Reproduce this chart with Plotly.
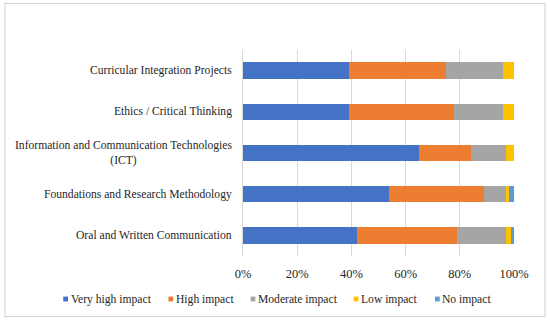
import plotly.graph_objects as go

categories = [
    "Curricular Integration Projects",
    "Ethics / Critical Thinking",
    "Information and Communication Technologies<br>(ICT)",
    "Foundations and Research Methodology",
    "Oral and Written Communication",
]
series_names = ["Very high impact", "High impact", "Moderate impact", "Low impact", "No impact"]
very_high = [39, 39, 65, 54, 42]
high = [36, 39, 19, 35, 37]
moderate = [21, 18, 13, 8, 18]
low = [4, 4, 3, 1, 2]
no_impact = [0, 0, 0, 2, 1]
tick_vals = [0, 20, 40, 60, 80, 100]
tick_text = ["0%", "20%", "40%", "60%", "80%", "100%"]

colors = ["#4472C4", "#ED7D31", "#A5A5A5", "#FFC000", "#5B9BD5"]
values = [very_high, high, moderate, low, no_impact]

W, H = 550, 322
L, R, T, B = 243, 514.5, 50, 256
FONT = "Liberation Serif, Times New Roman, serif"

fig = go.Figure()
for name, vals, c in zip(series_names, values, colors):
    fig.add_trace(go.Bar(
        y=categories, x=vals, name=name, orientation="h",
        marker=dict(color=c, line=dict(width=0)), showlegend=False,
    ))

def px_x(p):
    return (p - L) / (R - L)

def px_y(p):
    return (B - p) / (B - T)

shapes = []
annotations = []
# outer border
shapes.append(dict(type="rect", xref="paper", yref="paper",
                   x0=px_x(4.5), x1=px_x(545.5), y0=px_y(316.5), y1=px_y(3.5),
                   line=dict(color="#d0d0d0", width=1), layer="below"))

# category labels
for cat in categories:
    annotations.append(dict(x=0, xref="paper", y=cat, yref="y", text=cat,
                            showarrow=False, xanchor="right", xshift=-9,
                            align="center",
                            font=dict(family=FONT, size=11.6, color="#262626")))

# legend
marker_x = [65.3, 170.7, 253.0, 356.3, 437.7]
legend_y = 299
for name, c, mx in zip(series_names, colors, marker_x):
    shapes.append(dict(type="rect", xref="paper", yref="paper",
                       x0=px_x(mx - 2.4), x1=px_x(mx + 2.4),
                       y0=px_y(legend_y + 2.4), y1=px_y(legend_y - 2.4),
                       fillcolor=c, line=dict(width=0)))
    annotations.append(dict(x=px_x(mx + 5), xref="paper", y=px_y(legend_y), yref="paper",
                            text=name, showarrow=False, xanchor="left", yanchor="middle",
                            xshift=-2,
                            font=dict(family=FONT, size=11.6, color="#262626")))

fig.update_layout(
    barmode="stack",
    bargap=0.6,
    width=W, height=H,
    margin=dict(l=L, r=W - R, t=T, b=H - B, pad=0),
    paper_bgcolor="white", plot_bgcolor="white",
    font=dict(family=FONT, color="#262626"),
    shapes=shapes, annotations=annotations,
    xaxis=dict(range=[0, 100], tickvals=tick_vals, ticktext=tick_text,
               showgrid=True, gridcolor="#d9d9d9", gridwidth=1,
               zeroline=False, showline=False, ticks="",
               ticklabelstandoff=8,
               tickfont=dict(family=FONT, size=12.5, color="#262626"), fixedrange=True),
    yaxis=dict(autorange="reversed", showticklabels=False, showgrid=False,
               showline=True, linecolor="#d9d9d9", linewidth=1, ticks="",
               zeroline=False, fixedrange=True),
)

fig.write_html("out.html", config={"displayModeBar": False},
               post_script="document.body.style.margin='0';")
